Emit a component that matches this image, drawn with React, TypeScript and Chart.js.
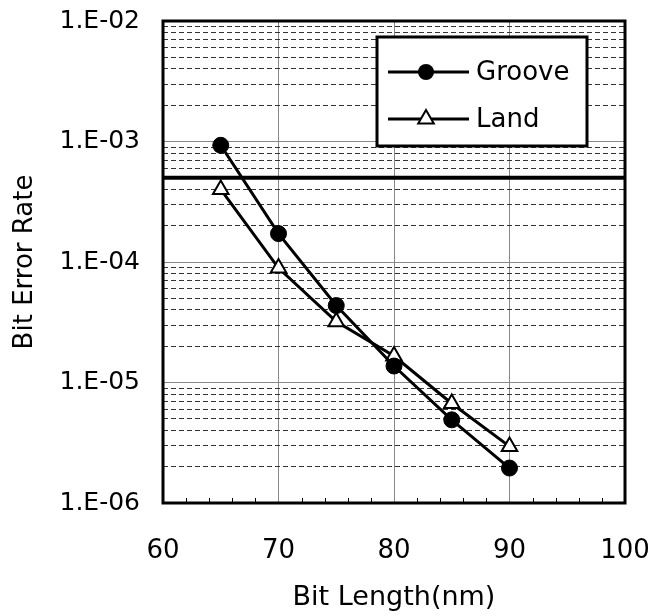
import React, { useEffect, useRef } from 'react';
import { Chart, registerables } from 'chart.js';

Chart.register(...registerables);

// Bit error rate versus bit length for groove and land tracks
const bitLength = [65, 70, 75, 80, 85, 90];
const grooveBER = [9.3e-4, 1.72e-4, 4.35e-5, 1.37e-5, 4.9e-6, 1.95e-6];
const landBER = [4.0e-4, 8.9e-5, 3.2e-5, 1.66e-5, 6.7e-6, 2.95e-6];
const thresholdBER = 5e-4;

const seriesNames = ['Groove', 'Land'];
const yDecades = [-6, -5, -4, -3, -2];
const yDecadeLabels = ['1.E-06', '1.E-05', '1.E-04', '1.E-03', '1.E-02'];
const xMin = 60;
const xMax = 100;
const xStep = 10;
const xMinorStep = 2;

const FONT = '"DejaVu Sans", Verdana, sans-serif';

const isDecade = (v: number) => {
  const e = Math.log10(v);
  return Math.abs(e - Math.round(e)) < 1e-9;
};

const frameAndExtras = {
  id: 'frameAndExtras',
  beforeDatasetsDraw(chart: any) {
    const { ctx, chartArea: a, scales } = chart;
    const y = scales.y;
    const x = scales.x;
    ctx.save();
    // minor tick marks along the bottom axis
    ctx.strokeStyle = '#000';
    ctx.lineWidth = 1;
    for (let v = xMin + xMinorStep; v < xMax; v += xMinorStep) {
      if (v % xStep === 0) continue;
      const px = Math.round(x.getPixelForValue(v)) + 0.5;
      ctx.beginPath();
      ctx.moveTo(px, a.bottom);
      ctx.lineTo(px, a.bottom - 5);
      ctx.stroke();
    }
    // threshold line
    const ty = y.getPixelForValue(thresholdBER);
    ctx.lineWidth = 4;
    ctx.beginPath();
    ctx.moveTo(a.left, ty);
    ctx.lineTo(a.right, ty);
    ctx.stroke();
    ctx.restore();
  },
  afterDraw(chart: any) {
    const { ctx, chartArea: a } = chart;
    ctx.save();
    // plot frame
    ctx.strokeStyle = '#000';
    ctx.lineWidth = 3;
    ctx.strokeRect(a.left, a.top, a.right - a.left, a.bottom - a.top);

    // legend box
    const lx = a.left + 214;
    const ly = a.top + 16;
    const lw = 210;
    const lh = 109;
    ctx.fillStyle = '#fff';
    ctx.fillRect(lx, ly, lw, lh);
    ctx.lineWidth = 3;
    ctx.strokeRect(lx, ly, lw, lh);

    const rows = [ly + 35, ly + 82];
    chart.data.datasets.forEach((ds: any, i: number) => {
      const ry = rows[i];
      ctx.strokeStyle = '#000';
      ctx.lineWidth = 3;
      ctx.beginPath();
      ctx.moveTo(lx + 11, ry);
      ctx.lineTo(lx + 92, ry);
      ctx.stroke();
      const cx = lx + 49;
      if (ds.pointStyle === 'circle') {
        ctx.fillStyle = '#000';
        ctx.beginPath();
        ctx.arc(cx, ry, ds.pointRadius, 0, Math.PI * 2);
        ctx.fill();
      } else {
        const r = ds.pointRadius;
        ctx.fillStyle = '#fff';
        ctx.lineWidth = ds.pointBorderWidth;
        ctx.beginPath();
        for (let k = 0; k < 3; k++) {
          const ang = (k * 2 * Math.PI) / 3;
          const px = cx + Math.sin(ang) * r;
          const py = ry - Math.cos(ang) * r;
          if (k === 0) ctx.moveTo(px, py);
          else ctx.lineTo(px, py);
        }
        ctx.closePath();
        ctx.fill();
        ctx.stroke();
      }
      ctx.fillStyle = '#000';
      ctx.font = `26px ${FONT}`;
      ctx.textBaseline = 'middle';
      ctx.textAlign = 'left';
      ctx.fillText(ds.label, lx + 99, ry + 1);
    });
    ctx.restore();
  },
};

export default function App() {
  const canvasRef = useRef<HTMLCanvasElement>(null);

  useEffect(() => {
    const canvas = canvasRef.current;
    if (!canvas) return;
    const chart = new Chart(canvas, {
      type: 'line',
      data: {
        datasets: [
          {
            label: seriesNames[0],
            data: bitLength.map((v, i) => ({ x: v, y: grooveBER[i] })),
            borderColor: '#000',
            borderWidth: 3,
            pointStyle: 'circle',
            pointRadius: 8,
            pointBackgroundColor: '#000',
            pointBorderColor: '#000',
            pointBorderWidth: 1,
            tension: 0,
          },
          {
            label: seriesNames[1],
            data: bitLength.map((v, i) => ({ x: v, y: landBER[i] })),
            borderColor: '#000',
            borderWidth: 3,
            pointStyle: 'triangle',
            pointRadius: 9,
            pointBackgroundColor: '#fff',
            pointBorderColor: '#000',
            pointBorderWidth: 2,
            tension: 0,
          },
        ],
      },
      options: {
        animation: false,
        responsive: false,
        maintainAspectRatio: false,
        layout: { padding: { top: 21, right: 23, left: 0, bottom: 0 } },
        plugins: {
          legend: { display: false },
          tooltip: { enabled: false },
        },
        scales: {
          x: {
            type: 'linear',
            min: xMin,
            max: xMax,
            ticks: {
              stepSize: xStep,
              color: '#000',
              font: { family: FONT, size: 26 },
              padding: 33,
            },
            grid: {
              color: '#888',
              lineWidth: 1,
              drawTicks: false,
            },
            border: { display: false },
            title: {
              display: true,
              text: 'Bit Length(nm)',
              color: '#000',
              font: { family: FONT, size: 27 },
              padding: { top: 0, bottom: 2 },
            },
            afterFit(scale: any) {
              scale.height = 113;
              scale.paddingLeft = 0;
              scale.paddingRight = 0;
            },
          },
          y: {
            type: 'logarithmic',
            min: Math.pow(10, yDecades[0]),
            max: Math.pow(10, yDecades[yDecades.length - 1]),
            afterBuildTicks(scale: any) {
              const ticks: any[] = [];
              for (let d = 0; d < yDecades.length; d++) {
                const e = yDecades[d];
                const last = d === yDecades.length - 1;
                for (let m = 1; m <= (last ? 1 : 9); m++) {
                  ticks.push({ value: Number((m * Math.pow(10, e)).toPrecision(3)), major: m === 1 });
                }
              }
              scale.ticks = ticks;
            },
            ticks: {
              color: '#000',
              font: { family: FONT, size: 25 },
              padding: 23,
              autoSkip: false,
              callback: (value: any) => {
                const v = Number(value);
                if (!isDecade(v)) return '';
                const idx = yDecades.indexOf(Math.round(Math.log10(v)));
                return idx >= 0 ? yDecadeLabels[idx] : '';
              },
            },
            grid: {
              color: (c: any) => (c.tick && isDecade(c.tick.value) ? '#888' : '#333'),
              lineWidth: 1,
              drawTicks: false,
            },
            border: {
              display: false,
              dash: (c: any) => (c.tick && isDecade(c.tick.value) ? [] : [5, 3]),
            },
            title: {
              display: true,
              text: 'Bit Error Rate',
              color: '#000',
              font: { family: FONT, size: 26 },
              padding: { top: 10, bottom: 0 },
            },
            afterFit(scale: any) {
              scale.width = 163;
              scale.paddingTop = 0;
              scale.paddingBottom = 0;
            },
          },
        },
      },
      plugins: [frameAndExtras],
    });
    return () => chart.destroy();
  }, []);

  return (
    <div style={{ position: 'fixed', left: 0, top: 0, width: 648, height: 616, background: '#fff' }}>
      <canvas ref={canvasRef} width={648} height={616} style={{ width: 648, height: 616 }} />
    </div>
  );
}
